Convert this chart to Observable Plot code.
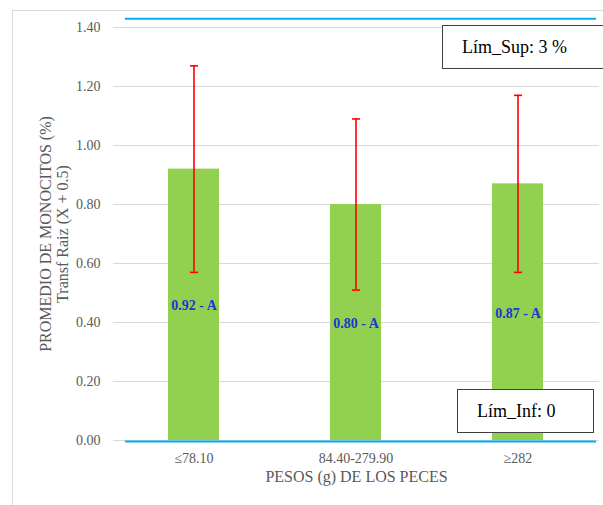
<!DOCTYPE html>
<html>
<head>
<meta charset="utf-8">
<script src="https://cdn.jsdelivr.net/npm/d3@7"></script>
<script src="https://cdn.jsdelivr.net/npm/@observablehq/plot@0.6"></script>
<style>
  html, body { margin: 0; padding: 0; overflow: hidden; background: #fff; }
  #wrap { position: relative; width: 603px; height: 505px; overflow: hidden; }
  #frame { position: absolute; left: 12px; top: 10px; width: 700px; height: 600px;
           border: 1.5px solid #d9d9d9; box-sizing: border-box; pointer-events: none; }
  .note { position: absolute; background: #fff; border: 1.5px solid #404040; box-sizing: border-box;
          font-family: "Liberation Serif", "Times New Roman", serif; font-size: 18px; color: #000;
          display: flex; align-items: center; padding-left: 19px; }
</style>
</head>
<body>
<div id="wrap">
  <div id="frame"></div>
  <div id="chart"></div>
  <div class="note" id="sup" style="left:442px; top:25px; width:170px; height:44px;"></div>
  <div class="note" id="inf" style="left:457px; top:389px; width:137px; height:44px;"></div>
</div>
<script>
const categories = ["≤78.10", "84.40-279.90", "≥282"];
const means = [0.92, 0.80, 0.87];
const lower = [0.57, 0.51, 0.57];
const upper = [1.27, 1.09, 1.17];
const letters = ["A", "A", "A"];
const yTicks = [0, 0.2, 0.4, 0.6, 0.8, 1.0, 1.2, 1.4];
const limSupLine = 1.43;
const limInfLine = 0;
const limSupText = "Lím_Sup: 3 %";
const limInfText = "Lím_Inf: 0";
const yLabel1 = "PROMEDIO DE MONOCITOS (%)";
const yLabel2 = "Transf Raiz (X + 0.5)";
const xLabel = "PESOS (g) DE LOS PECES";

const data = categories.map((c, i) => ({
  cat: c, mean: means[i], lo: lower[i], hi: upper[i],
  label: `${means[i].toFixed(2)} - ${letters[i]}`
}));

const serif = "Liberation Serif, Times New Roman, serif";
// horizontal cap symbol for the error bars
const capSymbol = { draw(ctx) { ctx.moveTo(-4, 0); ctx.lineTo(4, 0); } };
const capOpts = { x: "cat", symbol: capSymbol, stroke: "#ff0000", fill: "none", strokeWidth: 1.6 };

const chart = Plot.plot({
  width: 603,
  height: 505,
  marginLeft: 113,
  marginRight: 4,
  marginTop: 27,
  marginBottom: 65,
  style: { fontFamily: serif, fontSize: "14px", color: "#595959", background: "transparent", overflow: "visible" },
  x: { domain: categories, paddingInner: 0.685, paddingOuter: 0.3425, label: null },
  y: { domain: [0, 1.4], label: null },
  marks: [
    Plot.gridY(yTicks, { stroke: "#d9d9d9", strokeOpacity: 1, strokeWidth: 1.2 }),
    Plot.axisY(yTicks, { tickSize: 0, tickPadding: 13, tickFormat: d3.format(".2f"), label: null, fill: "#595959", fontFamily: serif }),
    Plot.axisX({ tickSize: 0, tickPadding: 13, label: null, fill: "#595959", fontFamily: serif }),
    Plot.barY(data, { x: "cat", y: "mean", fill: "#92d050" }),
    Plot.ruleX(data, { x: "cat", y1: "lo", y2: "hi", stroke: "#ff0000", strokeWidth: 1.6 }),
    Plot.dot(data, { ...capOpts, y: "hi" }),
    Plot.dot(data, { ...capOpts, y: "lo" }),
    Plot.text(data, { x: "cat", y: d => d.mean / 2, text: "label", fill: "#2035d0", fontWeight: "bold", fontSize: 14, dy: 1, fontFamily: serif }),
    Plot.ruleY([limSupLine], { stroke: "#00b0f0", strokeWidth: 2, insetLeft: 12, insetRight: 3 }),
    Plot.ruleY([limInfLine], { stroke: "#00b0f0", strokeWidth: 2, insetLeft: 12, insetRight: 3, dy: 1 }),
    Plot.text([yLabel1], { text: d => d, frameAnchor: "left", textAnchor: "middle", rotate: -90, dx: -68, fontSize: 16, fill: "#595959", fontFamily: serif }),
    Plot.text([yLabel2], { text: d => d, frameAnchor: "left", textAnchor: "middle", rotate: -90, dx: -51, fontSize: 16, fill: "#595959", fontFamily: serif }),
    Plot.text([xLabel], { text: d => d, frameAnchor: "bottom", dy: 41, fontSize: 16, fill: "#595959", fontFamily: serif })
  ]
});
document.getElementById("chart").appendChild(chart);
document.getElementById("sup").textContent = limSupText;
document.getElementById("inf").textContent = limInfText;
</script>
</body>
</html>
